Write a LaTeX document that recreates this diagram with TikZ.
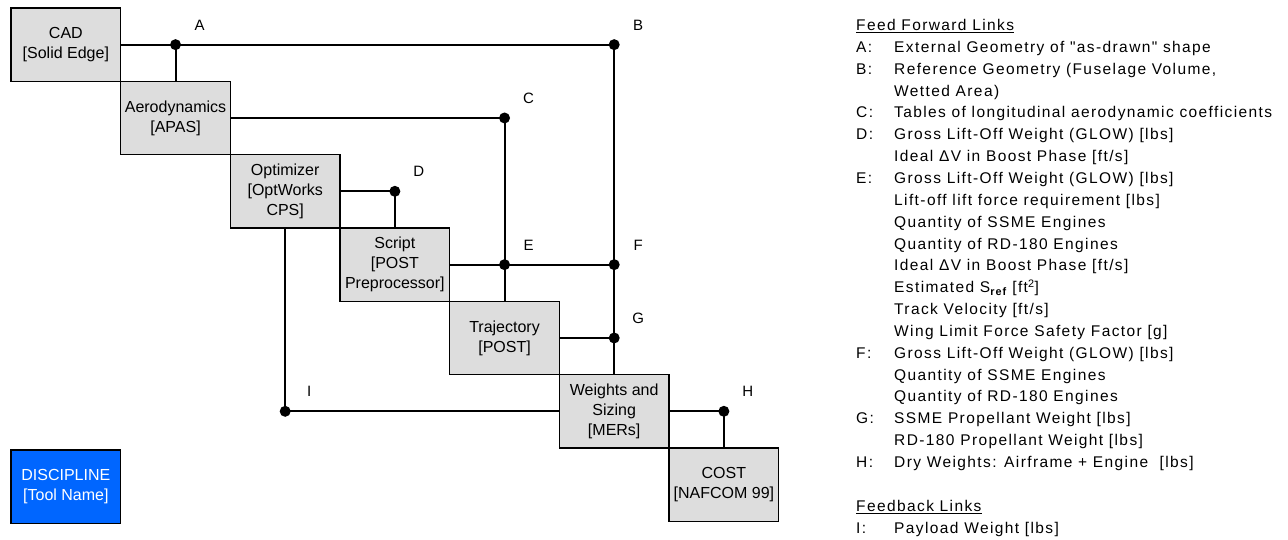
\documentclass[tikz,border=0pt]{standalone}
\usepackage{fontspec}
\setmainfont{Liberation Sans}
\newfontfamily\legendfont[LetterSpace=9]{Liberation Sans}
\definecolor{boxgray}{RGB}{221,221,221}
\definecolor{discblue}{RGB}{0,102,255}
\newcommand\legrow[3]{%
  \node[legend] (k#1) at (856,{30.5+21.85*#1}) {#2};
  \node[legend] (t#1) at (894,{30.5+21.85*#1}) {#3};}
\begin{document}
\begin{tikzpicture}[x=1pt,y=-1pt,
  tool/.style={draw=black, line width=1.2pt, fill=boxgray, minimum width=109.7pt,
    minimum height=73.3pt, inner sep=0pt, align=center, font=\fontsize{16}{20}\selectfont},
  link/.style={line width=2pt},
  junction/.style={circle, fill=black, inner sep=0pt, minimum size=11pt},
  tag/.style={inner sep=0pt, font=\fontsize{15}{18}\selectfont},
  legend/.style={anchor=base west, inner sep=0pt, font=\legendfont\fontsize{15.5}{18}\selectfont}]
\useasboundingbox (0,0) rectangle (1288,539);
% tool boxes
\node[tool] (cad) at (65.85,44.65) {CAD\\{[Solid Edge]}};
\node[tool] (aero) at (175.52,117.98) {Aerodynamics\\{[APAS]}};
\node[tool] (opt) at (285.19,191.31) {Optimizer\\{[OptWorks}\\CPS]};
\node[tool] (script) at (394.86,264.64) {Script\\{[POST}\\Preprocessor]};
\node[tool] (traj) at (504.53,337.97) {Trajectory\\{[POST]}};
\node[tool] (wts) at (614.2,411.3) {Weights and\\Sizing\\{[MERs]}};
\node[tool] (cost) at (723.87,484.63) {COST\\{[NAFCOM 99]}};
\node[tool, fill=discblue, text=white] (disc) at (65.85,486.6) {DISCIPLINE\\{[Tool Name]}};
% junction points
\coordinate (A) at (aero.center |- cad.center);
\coordinate (B) at (wts.center |- cad.center);
\coordinate (C) at (traj.center |- aero.center);
\coordinate (D) at (script.center |- opt.center);
\coordinate (E) at (traj.center |- script.center);
\coordinate (F) at (wts.center |- script.center);
\coordinate (G) at (wts.center |- traj.center);
\coordinate (H) at (cost.center |- wts.center);
\coordinate (I) at (opt.center |- wts.center);
% connectors
\draw[link] (cad.east) -- (A) -- (B) -- (F) -- (G) -- (wts.north);
\draw[link] (A) -- (aero.north);
\draw[link] (aero.east) -- (C) -- (E) -- (traj.north);
\draw[link] (opt.east) -- (D) -- (script.north);
\draw[link] (script.east) -- (E) -- (F);
\draw[link] (traj.east) -- (G);
\draw[link] (wts.east) -- (H) -- (cost.north);
\draw[link] (opt.south) -- (I) -- (wts.west);
% dots and labels
\foreach \p in {A,B,C,D,E,F,G,H,I}{
  \node[junction] (dot\p) at (\p) {};
  \node[tag] (lab\p) at ([shift={(24,-19.5)}]\p) {\p};
}
% legend
\node[legend] (ffl) at (856,30.5) {\underline{Feed Forward Links}};
\legrow{1}{A:}{External Geometry of "as-drawn" shape}
\legrow{2}{B:}{Reference Geometry (Fuselage Volume,}
\legrow{3}{}{Wetted Area)}
\legrow{4}{C:}{Tables of longitudinal aerodynamic coefficients}
\legrow{5}{D:}{Gross Lift-Off Weight (GLOW) [lbs]}
\legrow{6}{}{Ideal ΔV in Boost Phase [ft/s]}
\legrow{7}{E:}{Gross Lift-Off Weight (GLOW) [lbs]}
\legrow{8}{}{Lift-off lift force requirement [lbs]}
\legrow{9}{}{Quantity of SSME Engines}
\legrow{10}{}{Quantity of RD-180 Engines}
\legrow{11}{}{Ideal ΔV in Boost Phase [ft/s]}
\legrow{12}{}{Estimated S\textsubscript{\bfseries ref} [ft\textsuperscript{2}]}
\legrow{13}{}{Track Velocity [ft/s]}
\legrow{14}{}{Wing Limit Force Safety Factor [g]}
\legrow{15}{F:}{Gross Lift-Off Weight (GLOW) [lbs]}
\legrow{16}{}{Quantity of SSME Engines}
\legrow{17}{}{Quantity of RD-180 Engines}
\legrow{18}{G:}{SSME Propellant Weight [lbs]}
\legrow{19}{}{RD-180 Propellant Weight [lbs]}
\legrow{20}{H:}{Dry Weights: Airframe + Engine\ \ [lbs]}
\node[legend] (fbl) at (856,{30.5+21.85*22}) {\underline{Feedback Links}};
\legrow{23}{I:}{Payload Weight [lbs]}
\end{tikzpicture}
\end{document}
